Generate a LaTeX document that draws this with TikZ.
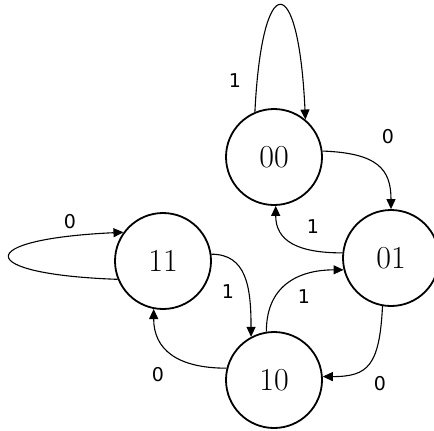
\documentclass[tikz,border=0pt]{standalone}
\usepackage{fontspec}
\newfontfamily\lblfont{DejaVu Sans}
\usetikzlibrary{arrows.meta}

\begin{document}
\begin{tikzpicture}[x=0.5pt, y=-0.5pt, >={Triangle[length=5pt,width=4.5pt]},
	state/.style={circle, draw, line width=0.9pt, minimum size=48pt, inner sep=0pt, font=\fontsize{16}{18}\selectfont},
	lbl/.style={font=\lblfont\fontsize{9.5}{11}\selectfont},
	trans/.style={->, line width=0.55pt}]
	\useasboundingbox (0,0) rectangle (434,430);
	% states
	\node[state] (s00) at (274,157) {00};
	\node[state] (s01) at (391,258) {01};
	\node[state] (s11) at (163,261) {11};
	\node[state] (s10) at (274,380) {10};
	% transitions
	\draw[trans] (s00.113) .. controls +(7,-142) and +(-7,-152) .. (s00.50);
	\draw[trans] (s00.7) .. controls +(55,2) and +(0,-40) .. (s01.90);
	\draw[trans] (s01.174) .. controls +(-45,0) and +(0,35) .. (s00.-88);
	\draw[trans] (s11.202) .. controls +(-144,-5) and +(-152,7) .. (s11.144);
	\draw[trans] (s11.8) .. controls +(35,0) and +(0,-50) .. (s10.118);
	\draw[trans] (s10.99) .. controls +(0,-50) and +(-40,0) .. (s01.194);
	\draw[trans] (s01.260) .. controls +(-3,60) and +(45,0) .. (s10.4);
	\draw[trans] (s10.166) .. controls +(-50,0) and +(0,40) .. (s11.259);
	% labels
	\node[lbl] (l1) at (235,81) {1};
	\node[lbl] (l2) at (388,137) {0};
	\node[lbl] (l3) at (313,227) {1};
	\node[lbl] (l4) at (70,222) {0};
	\node[lbl] (l5) at (228,292) {1};
	\node[lbl] (l6) at (304,297) {1};
	\node[lbl] (l7) at (380,384) {0};
	\node[lbl] (l8) at (158,375) {0};
\end{tikzpicture}
\end{document}
